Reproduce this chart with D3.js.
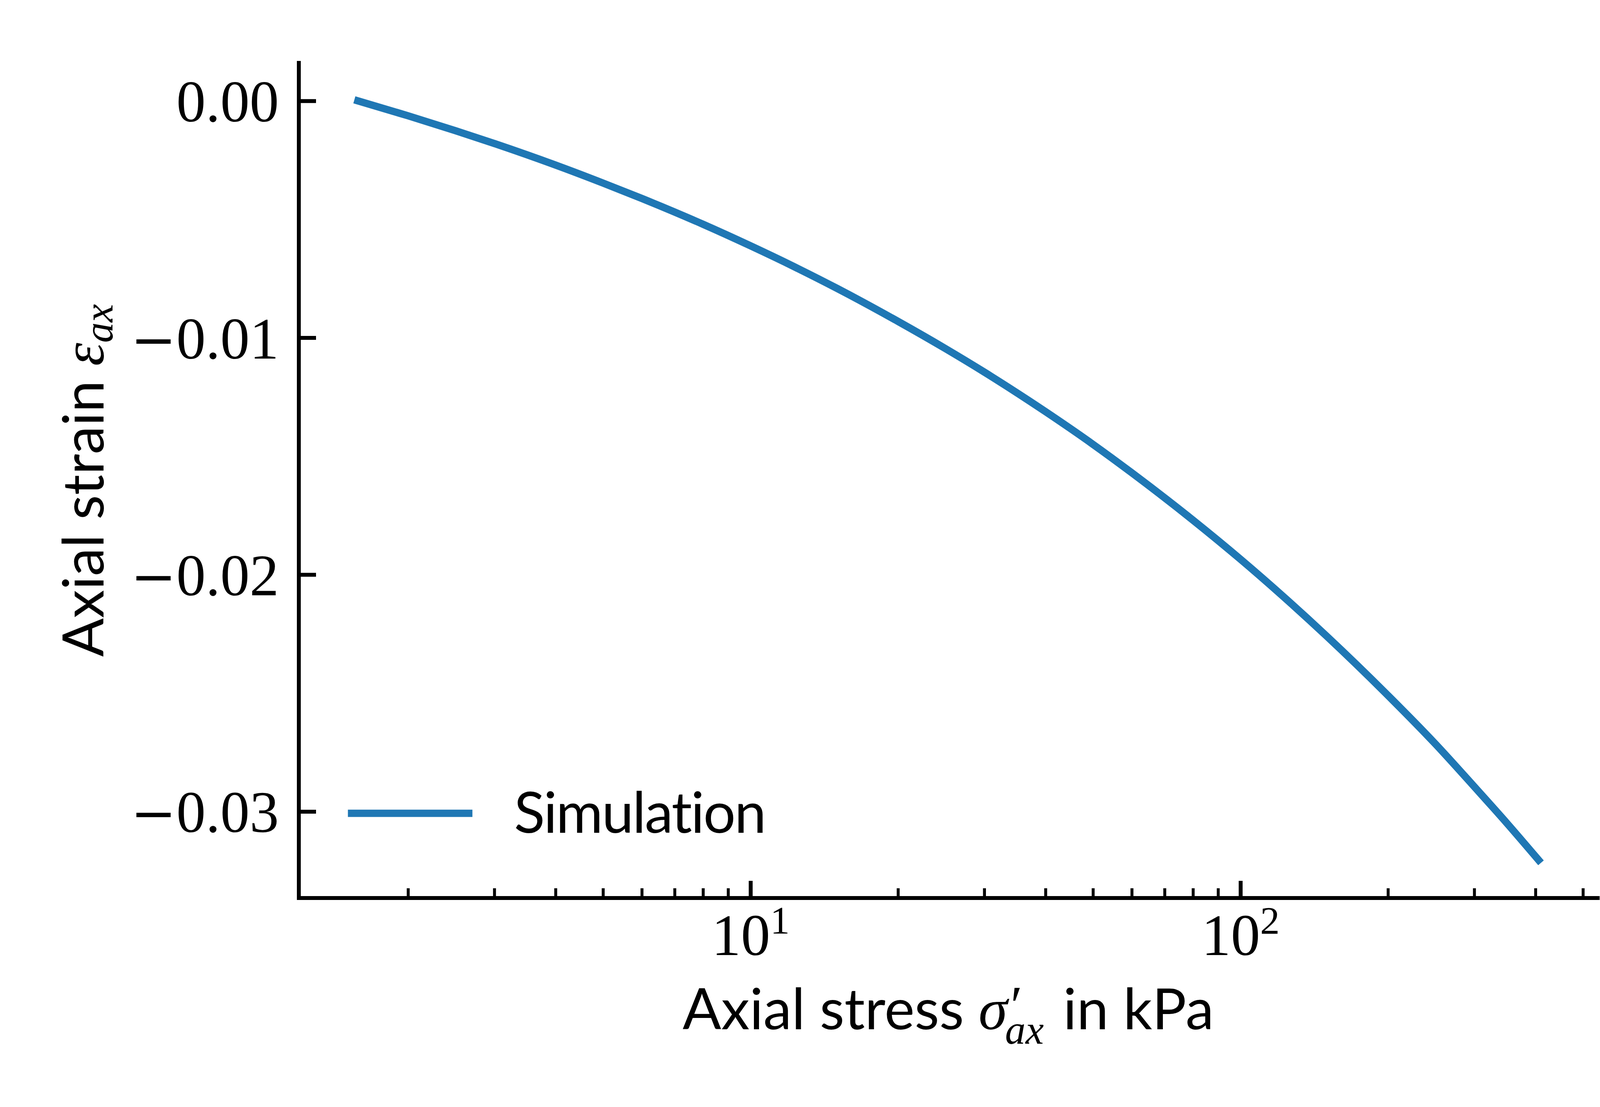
<!DOCTYPE html>
<html>
<head>
<meta charset="utf-8">
<script src="https://cdn.jsdelivr.net/npm/d3@7"></script>
<style>
  html, body { margin: 0; padding: 0; background: #ffffff; overflow: hidden; }
  svg { display: block; }
  text { font-variant-ligatures: none; font-feature-settings: "liga" 0, "clig" 0; }
</style>
</head>
<body>
<svg id="chart"></svg>
<script>
// ---------------- data ----------------
const stressKPa = [1.58, 2, 2.5, 3, 4, 5, 6, 8, 10, 12.5, 15, 20, 25, 30, 40, 50, 60, 80, 100, 125, 150, 200, 250, 300, 350, 406];
const axialStrain = [0.0, -0.00063, -0.00126, -0.00180, -0.00271, -0.00347, -0.00412, -0.00521, -0.00612, -0.00708, -0.00791, -0.00931, -0.01046, -0.01145, -0.01312, -0.01450, -0.01570, -0.01770, -0.01935, -0.02110, -0.02260, -0.02510, -0.02715, -0.02895, -0.03050, -0.03205];
const seriesName = "Simulation";
const xMajorTicks = [10, 100];
const xMajorExponents = ["1", "2"];
const xMinorTicks = [2, 3, 4, 5, 6, 7, 8, 9, 20, 30, 40, 50, 60, 70, 80, 90, 200, 300, 400, 500];
const yTicks = [0.0, -0.01, -0.02, -0.03];

// ---------------- layout ----------------
const W = 4251, H = 2834;
const L = 765, R = 4090, T = 161, B = 2299;
const sansFont = "Lato, 'Liberation Sans', sans-serif";
const serifFont = "'Liberation Serif', 'DejaVu Serif', serif";
const minusFont = "'DejaVu Serif', serif";
const fs = 150;          // 12pt at 900 dpi
const labelFs = 146;
const lineColor = "#1f77b4";

const svg = d3.select("#chart").attr("width", W).attr("height", H).attr("viewBox", `0 0 ${W} ${H}`);
svg.append("rect").attr("width", W).attr("height", H).attr("fill", "#fff");

const data = stressKPa.map((s, i) => ({ s, e: axialStrain[i] }));

// matplotlib-like 5% margins
const lx = d3.extent(stressKPa, v => Math.log10(v));
const mx = (lx[1] - lx[0]) * 0.05;
const x = d3.scaleLog().domain([Math.pow(10, lx[0] - mx), Math.pow(10, lx[1] + mx)]).range([L, R]);
const ye = d3.extent(axialStrain);
const my = (ye[1] - ye[0]) * 0.05;
const y = d3.scaleLinear().domain([ye[0] - my, ye[1] + my]).range([B, T]);

// ---------------- curve ----------------
const line = d3.line().x(d => x(d.s)).y(d => y(d.e)).curve(d3.curveMonotoneX);
svg.append("path").datum(data)
  .attr("d", line)
  .attr("fill", "none")
  .attr("stroke", lineColor)
  .attr("stroke-width", 18.75)
  .attr("stroke-linecap", "square")
  .attr("stroke-linejoin", "round");

// ---------------- axes ----------------
const xMinorAxis = d3.axisBottom(x).tickValues(xMinorTicks.filter(v => v >= x.domain()[0] && v <= x.domain()[1]))
  .tickSizeInner(-25).tickSizeOuter(0).tickFormat("");
const gxm = svg.append("g").attr("transform", `translate(0,${B})`).call(xMinorAxis);
gxm.select(".domain").remove();
gxm.selectAll(".tick line").attr("stroke", "#000").attr("stroke-width", 7.5);

const xAxis = d3.axisBottom(x).tickValues(xMajorTicks).tickSizeInner(-44).tickSizeOuter(0).tickPadding(0);
const gx = svg.append("g").attr("transform", `translate(0,${B})`).call(xAxis);
gx.select(".domain").remove();
gx.selectAll(".tick line").attr("stroke", "#000").attr("stroke-width", 10);
gx.selectAll(".tick text").each(function (d, i) {
  const t = d3.select(this);
  t.text(null).attr("y", 146).attr("dy", null)
    .attr("font-family", serifFont).attr("font-size", fs).attr("fill", "#000")
    .attr("text-anchor", "middle");
  t.append("tspan").text("10");
  t.append("tspan").attr("dy", -55).attr("font-size", 100).text(xMajorExponents[i]);
});

const fmt = d3.format(".2f");
const yAxis = d3.axisLeft(y).tickValues(yTicks).tickSizeInner(-44).tickSizeOuter(0).tickPadding(51)
  .tickFormat(fmt);
const gy = svg.append("g").attr("transform", `translate(${L},0)`).call(yAxis);
gy.select(".domain").remove();
gy.selectAll(".tick line").attr("stroke", "#000").attr("stroke-width", 10);
gy.selectAll(".tick text").attr("font-family", serifFont).attr("font-size", fs)
  .attr("fill", "#000").attr("dy", "0.35em")
  .each(function () {
    const t = d3.select(this);
    const s = t.text();
    if (s.charAt(0) === "\u2212") {
      t.text(null);
      t.append("tspan").attr("font-family", minusFont).attr("font-size", 140).text("\u2212");
      t.append("tspan").text(s.slice(1));
    }
  });

// spines (left & bottom)
svg.append("line").attr("x1", L).attr("x2", L).attr("y1", T).attr("y2", B)
  .attr("stroke", "#000").attr("stroke-width", 10).attr("stroke-linecap", "square");
svg.append("line").attr("x1", L).attr("x2", R).attr("y1", B).attr("y2", B)
  .attr("stroke", "#000").attr("stroke-width", 10).attr("stroke-linecap", "square");

// ---------------- axis labels ----------------
function measure(str, family, size, style) {
  const t = svg.append("text").attr("font-family", family).attr("font-size", size)
    .attr("font-style", style || "normal").text(str);
  const w = t.node().getComputedTextLength();
  t.remove();
  return w;
}

// x label: Axial stress σ'_ax in kPa
const xl = svg.append("text")
  .attr("x", (L + R) / 2).attr("y", 2635)
  .attr("text-anchor", "middle").attr("fill", "#000")
  .attr("font-family", sansFont).attr("font-size", labelFs);
xl.append("tspan").text("Axial stress ");
xl.append("tspan").attr("font-family", serifFont).attr("font-style", "italic").attr("font-size", fs).text("σ");
const primeW = measure("′", serifFont, 140);
xl.append("tspan").attr("font-family", serifFont).attr("font-size", 140).attr("dy", -14).attr("dx", 8).text("′");
xl.append("tspan").attr("font-family", serifFont).attr("font-style", "italic").attr("font-size", 105)
  .attr("dx", -primeW - 14).attr("dy", 14 + 37).text("ax");
xl.append("tspan").attr("dy", -37).attr("dx", 12).text(" in kPa");

// y label: Axial strain ε_ax
const yl = svg.append("text")
  .attr("transform", `translate(265,${(T + B) / 2}) rotate(-90)`)
  .attr("text-anchor", "middle").attr("fill", "#000")
  .attr("font-family", sansFont).attr("font-size", labelFs);
yl.append("tspan").text("Axial strain ");
yl.append("tspan").attr("font-family", serifFont).attr("font-style", "italic").attr("font-size", fs).text("ε");
yl.append("tspan").attr("font-family", serifFont).attr("font-style", "italic").attr("font-size", 105)
  .attr("dy", 23).text("ax");

// ---------------- legend ----------------
const lg = svg.append("g");
lg.append("line").attr("x1", 900).attr("x2", 1200).attr("y1", 2082).attr("y2", 2082)
  .attr("stroke", lineColor).attr("stroke-width", 18.75).attr("stroke-linecap", "square");
lg.append("text").attr("x", 1316).attr("y", 2132)
  .attr("font-family", sansFont).attr("font-size", labelFs).attr("fill", "#000")
  .attr("letter-spacing", -3)
  .text(seriesName);
</script>
</body>
</html>
